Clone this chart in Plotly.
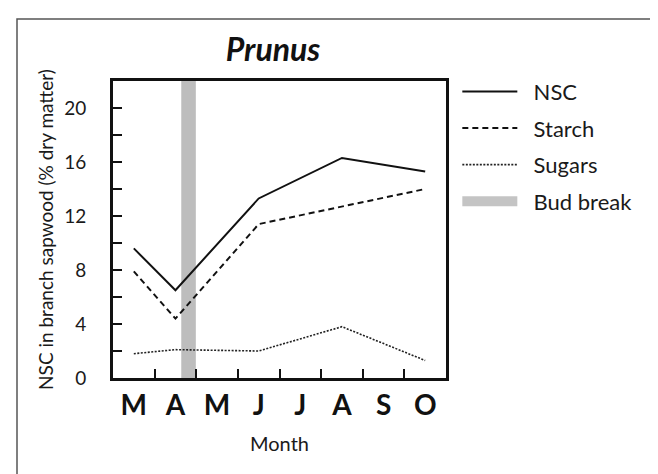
import plotly.graph_objects as go

months = ["M", "A", "M", "J", "J", "A", "S", "O"]
month_idx = list(range(len(months)))

sample_idx = [0, 1, 3, 5, 7]
nsc = [9.6, 6.5, 13.3, 16.3, 15.3]
starch = [7.9, 4.4, 11.4, 12.7, 14.0]
sugars = [1.8, 2.1, 2.0, 3.8, 1.3]

bud_break = [1.14, 1.49]

FONT = "Lato, 'Noto Sans', sans-serif"
PAD = "\u00a0\u00a0"

fig = go.Figure()
fig.add_trace(go.Scatter(x=sample_idx, y=nsc, mode="lines", name=PAD + "NSC",
                         line=dict(color="#111111", width=2), legendgroup="a"))
fig.add_trace(go.Scatter(x=sample_idx, y=starch, mode="lines", name=PAD + "Starch",
                         line=dict(color="#111111", width=2, dash="6px,4px"), legendgroup="b"))
fig.add_trace(go.Scatter(x=sample_idx, y=sugars, mode="lines", name=PAD + "Sugars",
                         line=dict(color="#222222", width=1.6, dash="2px,1.5px"), legendgroup="c"))
fig.add_trace(go.Scatter(x=[None], y=[None], mode="lines", name=PAD + "Bud break",
                         line=dict(color="#c4c4c4", width=16), legendgroup="d"))

fig.add_shape(type="rect", xref="x", yref="y", x0=bud_break[0], x1=bud_break[1],
              y0=0, y1=22, fillcolor="#bdbdbd", line=dict(width=0), layer="below")

# outer frame
fig.add_shape(type="rect", xref="paper", yref="paper",
              x0=(9 - 105) / 333, x1=2.0, y0=-1.0, y1=(370 - 11) / 297,
              line=dict(color="#555555", width=1.5), fillcolor="rgba(0,0,0,0)")

fig.update_layout(
    width=658, height=474,
    margin=dict(l=105, r=220, t=73, b=104),
    paper_bgcolor="white", plot_bgcolor="white",
    font=dict(family=FONT, color="#1a1a1a"),
    title=dict(text="<b><i>Prunus</i></b>", x=265 / 658, xanchor="center",
               y=1 - 42 / 474, yanchor="middle", font=dict(size=32, family=FONT, color="#111111")),
    showlegend=True,
    legend=dict(x=1.034, xanchor="left", y=1.035, yanchor="top",
                font=dict(size=22, family=FONT, color="#1a1a1a"),
                itemwidth=55, tracegroupgap=5, traceorder="grouped",
                bgcolor="rgba(0,0,0,0)"),
    xaxis=dict(range=[-0.5, 7.5], tickmode="array", tickvals=month_idx, ticktext=months,
               ticks="", showgrid=False, zeroline=False,
               showline=True, mirror=True, linecolor="#111111", linewidth=3,
               tickfont=dict(size=28, family=FONT, weight="bold", color="#111111"),
               ticklabelstandoff=0,
               minor=dict(tickmode="array", tickvals=[i + 0.5 for i in range(7)],
                          ticks="inside", ticklen=9, tickwidth=2, tickcolor="#111111",
                          showgrid=False),
               title=dict(text="Month", font=dict(size=20, family=FONT), standoff=18)),
    yaxis=dict(range=[0, 22], tickmode="array", tickvals=[0, 4, 8, 12, 16, 20],
               ticks="inside", ticklen=9, tickwidth=2, tickcolor="#111111",
               showgrid=False, zeroline=False,
               showline=True, mirror=True, linecolor="#111111", linewidth=3,
               tickfont=dict(size=19, family=FONT, color="#1a1a1a"),
               ticklabelstandoff=20,
               minor=dict(tickmode="array", tickvals=[2, 6, 10, 14, 18],
                          ticks="inside", ticklen=9, tickwidth=2, tickcolor="#111111",
                          showgrid=False),
               title=dict(text="NSC in branch sapwood (% dry matter)",
                          font=dict(size=19, family=FONT), standoff=6)),
)

fig.write_html("out.html")
